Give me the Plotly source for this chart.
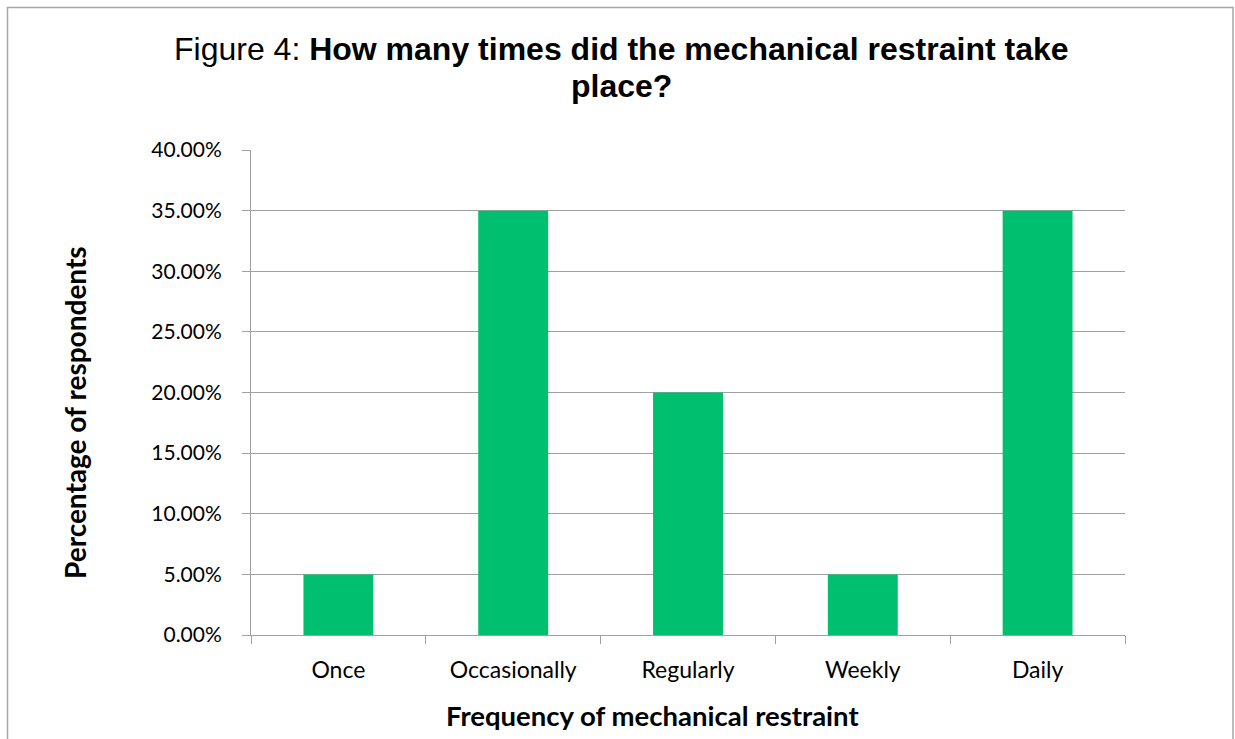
import plotly.graph_objects as go

categories = ["Once", "Occasionally", "Regularly", "Weekly", "Daily"]
percent_respondents = [0.05, 0.35, 0.20, 0.05, 0.35]
y_ticks = [0, 0.05, 0.10, 0.15, 0.20, 0.25, 0.30, 0.35, 0.40]

_GREEN = "#00c06f"
_GRID = "#a0a0a0"
_CALIBRI = "Lato, 'Open Sans', sans-serif"
_ARIAL = "Arial, 'Liberation Sans', sans-serif"

# plot area in pixels (left, right, top, bottom)
L, R, T, B = 251, 1125, 150, 635


def px(x):
    return (x - L) / (R - L)


def py(y):
    return (B - y) / (B - T)


fig = go.Figure(go.Bar(
    x=categories,
    y=percent_respondents,
    marker=dict(color=_GREEN, line=dict(width=0)),
    hovertemplate="%{x}: %{y:.2%}<extra></extra>",
))

fig.update_layout(
    width=1235,
    height=739,
    paper_bgcolor="white",
    plot_bgcolor="white",
    showlegend=False,
    bargap=0.6,
    margin=dict(l=L, r=1235 - R, t=T, b=739 - B),
    xaxis=dict(
        showline=True, linecolor=_GRID, linewidth=1,
        ticks="outside", tickson="boundaries", ticklen=8, tickcolor=_GRID,
        tickfont=dict(family=_CALIBRI, size=23, color="black"),
        ticklabelstandoff=14,
        showgrid=False,
    ),
    yaxis=dict(
        range=[0, 0.4], tickvals=y_ticks, tickformat=".2%",
        showline=True, linecolor=_GRID, linewidth=1,
        ticks="outside", ticklen=8, tickcolor=_GRID,
        showgrid=True, gridcolor=_GRID, gridwidth=1,
        zeroline=False,
        tickfont=dict(family=_CALIBRI, size=21, color="black"),
        ticklabelstandoff=16,
    ),
    annotations=[
        dict(text="Figure 4: <b>How many times did the mechanical restraint take</b>",
             xref="paper", yref="paper", x=px(621), y=py(49),
             xanchor="center", yanchor="middle", showarrow=False,
             font=dict(family=_ARIAL, size=32, color="black")),
        dict(text="<b>place?</b>",
             xref="paper", yref="paper", x=px(621), y=py(86),
             xanchor="center", yanchor="middle", showarrow=False,
             font=dict(family=_ARIAL, size=32, color="black")),
        dict(text="<b>Frequency of mechanical restraint</b>",
             xref="paper", yref="paper", x=px(652), y=py(715),
             xanchor="center", yanchor="middle", showarrow=False,
             font=dict(family=_CALIBRI, size=27.5, color="black")),
        dict(text="<b>Percentage of respondents</b>",
             xref="paper", yref="paper", x=px(75), y=py(413),
             xanchor="center", yanchor="middle", showarrow=False, textangle=-90,
             font=dict(family=_CALIBRI, size=28, color="black")),
    ],
    shapes=[
        dict(type="rect", xref="paper", yref="paper",
             x0=px(7.5), x1=px(1233), y0=py(760), y1=py(7.5),
             line=dict(color="#a6a6a6", width=1.5), fillcolor="rgba(0,0,0,0)",
             layer="below"),
    ],
)

fig.write_html(
    "out.html",
    config={"displayModeBar": False},
    post_script="document.body.style.margin='0';document.body.style.overflow='hidden';",
)
